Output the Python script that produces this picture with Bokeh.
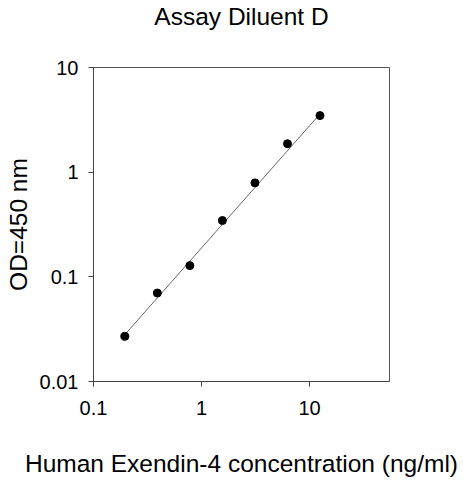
from bokeh.plotting import figure
from bokeh.models import FixedTicker, CustomJSTickFormatter, Range1d
from bokeh.embed import file_html
from bokeh.resources import INLINE

# data
conc = [0.195, 0.39, 0.78, 1.56, 3.125, 6.25, 12.5]
od = [0.027, 0.070, 0.128, 0.345, 0.79, 1.87, 3.47]
fit_x = [0.195, 12.5]
fit_y = [0.028, 3.6]
x_ticks = [0.1, 1, 10]
y_ticks = [0.01, 0.1, 1, 10]
title_text = "Assay Diluent D"
x_label = "Human Exendin-4 concentration (ng/ml)"
y_label = "OD=450 nm"

FONT = "Liberation Sans"

p = figure(width=463, height=480, x_axis_type="log", y_axis_type="log",
           x_range=Range1d(0.1, 55), y_range=Range1d(0.01, 10),
           output_backend="svg", toolbar_location=None,
           min_border_left=93, min_border_right=74,
           min_border_top=67, min_border_bottom=99,
           title=title_text + "\n")

p.title.text_font = FONT
p.title.text_font_size = "24.5px"
p.title.text_font_style = "normal"
p.title.text_line_height = 1.35
p.title.align = "center"
p.title.vertical_align = "top"
p.title.text_color = "#000000"
p.title.standoff = 0

p.grid.visible = False
p.outline_line_color = "#555555"
p.outline_line_width = 1
p.background_fill_color = "white"
p.border_fill_color = "white"

for ax, ticks in ((p.xaxis[0], x_ticks), (p.yaxis[0], y_ticks)):
    ax.ticker = FixedTicker(ticks=ticks, minor_ticks=[])
    ax.formatter = CustomJSTickFormatter(code="return tick.toString();")
    ax.major_label_text_font = FONT
    ax.major_label_text_font_size = "20px"
    ax.major_label_text_color = "#000000"
    ax.axis_label_text_font = FONT
    ax.axis_label_text_font_size = "24.5px"
    ax.axis_label_text_font_style = "normal"
    ax.axis_label_text_color = "#000000"
    ax.axis_line_color = "#444444"
    ax.major_tick_line_color = "#444444"
    ax.major_tick_out = 5
    ax.major_tick_in = 0
    ax.minor_tick_line_color = None

p.xaxis.axis_label = x_label
p.yaxis.axis_label = y_label
p.xaxis.major_label_standoff = 14
p.yaxis.major_label_standoff = 10
p.xaxis.axis_label_standoff = 32
p.yaxis.axis_label_standoff = 5

p.line(fit_x, fit_y, line_color="#666666", line_width=1)
p.scatter(conc, od, size=8, fill_color="black", line_color="black")

open("out.html", "w").write(file_html(p, INLINE))
